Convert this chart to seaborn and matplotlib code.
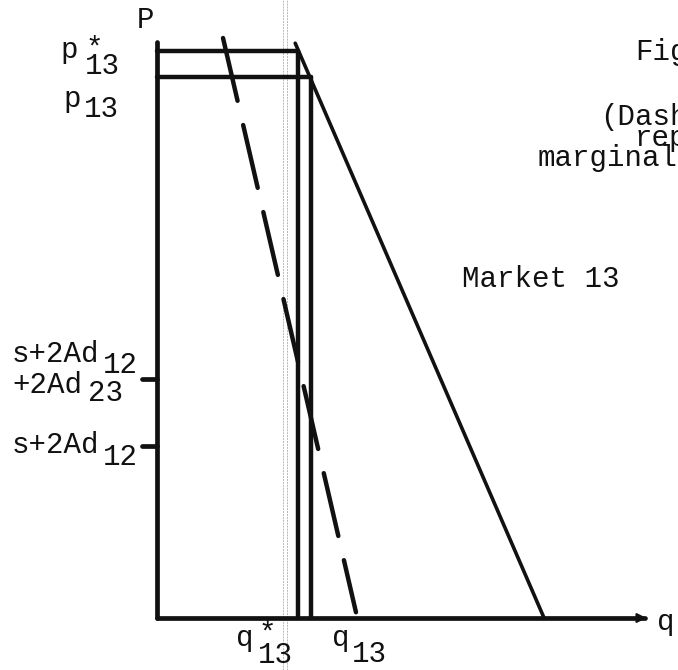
import matplotlib
matplotlib.use("Agg")
import matplotlib.pyplot as plt
import seaborn as sns
import pandas as pd

sns.set_style("white")
plt.rcParams['font.family'] = ['Liberation Mono', 'DejaVu Sans Mono']

# diagram values (q, p units; axes run 0..126 and 0..100)
q_axis_end = 126.0
p_axis_top = 100.0
demand_q = [35.7, 100.0]
demand_p = [99.8, 0.0]
mr_q = [17.05, 51.4]          # dashed marginal revenue line
mr_p = [100.7, 1.0]
p_star, p_13 = 98.4, 93.9
q_star, q_13 = 36.4, 39.8
tick_levels = [41.5, 29.9]    # s+2Ad12+2Ad23, s+2Ad12
scan_lines = [32.6, 33.6]     # faint photocopy streaks

W, H = 678, 670
fig = plt.figure(figsize=(W / 100, H / 100), dpi=100)
ax = fig.add_axes([0, 0, 1, 1])
ax.set_xlim(-40.57, 134.6)
ax.set_ylim(-9.03, 107.3)
ax.axis('off')

ink = '#111111'

for s in scan_lines:
    ax.axvline(s, color='#b8b8b8', lw=0.7, ls=(0, (2, 1)))

# axes
ax.plot([0, 0], [0, p_axis_top], color=ink, lw=3.4, solid_capstyle='round')
ax.plot([0, q_axis_end], [0, 0], color=ink, lw=3.4, solid_capstyle='round')
ax.annotate('', xy=(q_axis_end + 1.2, 0), xytext=(q_axis_end - 2, 0),
            arrowprops=dict(arrowstyle='-|>', color=ink, lw=1.5,
                            mutation_scale=14))

# price levels and quantities
ax.plot([0, q_star], [p_star, p_star], color=ink, lw=3.2)
ax.plot([0, q_13], [p_13, p_13], color=ink, lw=3.2)
ax.plot([q_star, q_star], [0, p_star], color=ink, lw=3.2)
ax.plot([q_13, q_13], [0, p_13], color=ink, lw=3.2)

# demand and marginal revenue
demand = pd.DataFrame({'q': demand_q, 'p': demand_p})
mr = pd.DataFrame({'q': mr_q, 'p': mr_p})
sns.lineplot(data=demand, x='q', y='p', ax=ax, color=ink, lw=2.6,
             sort=False, estimator=None)
sns.lineplot(data=mr, x='q', y='p', ax=ax, color=ink, lw=3.2,
             sort=False, estimator=None, dashes=False,
             linestyle=(0, (14.5, 5.6)), dash_capstyle='round')

for t in tick_levels:
    ax.plot([-3.9, 0], [t, t], color=ink, lw=3.4, solid_capstyle='round')

fs = 21


def label(x, y, s):
    fig.text(x / W, 1 - y / H, s, fontsize=fs, color=ink,
             ha='left', va='baseline')


label(137, 28, 'P')
label(60, 58, 'p')
label(85, 57, '*')
label(85, 74, '13')
label(63, 107, 'p')
label(84, 117, '13')

label(12, 362, 's+2Ad')
label(103, 373, '12')
label(12, 393, '+2Ad')
label(88, 401, '23')
label(12, 453, 's+2Ad')
label(103, 465, '12')

label(236, 646, 'q')
label(258, 642, '*')
label(258, 663, '13')
label(332, 646, 'q')
label(352, 662, '13')
label(657, 630, 'q')

label(635, 60, 'Fig')
label(600, 125, '(Dash')
label(635, 146, 'rep')
label(538, 166, 'marginal')
label(462, 287, 'Market 13')

fig.savefig('out.png', dpi=100)
